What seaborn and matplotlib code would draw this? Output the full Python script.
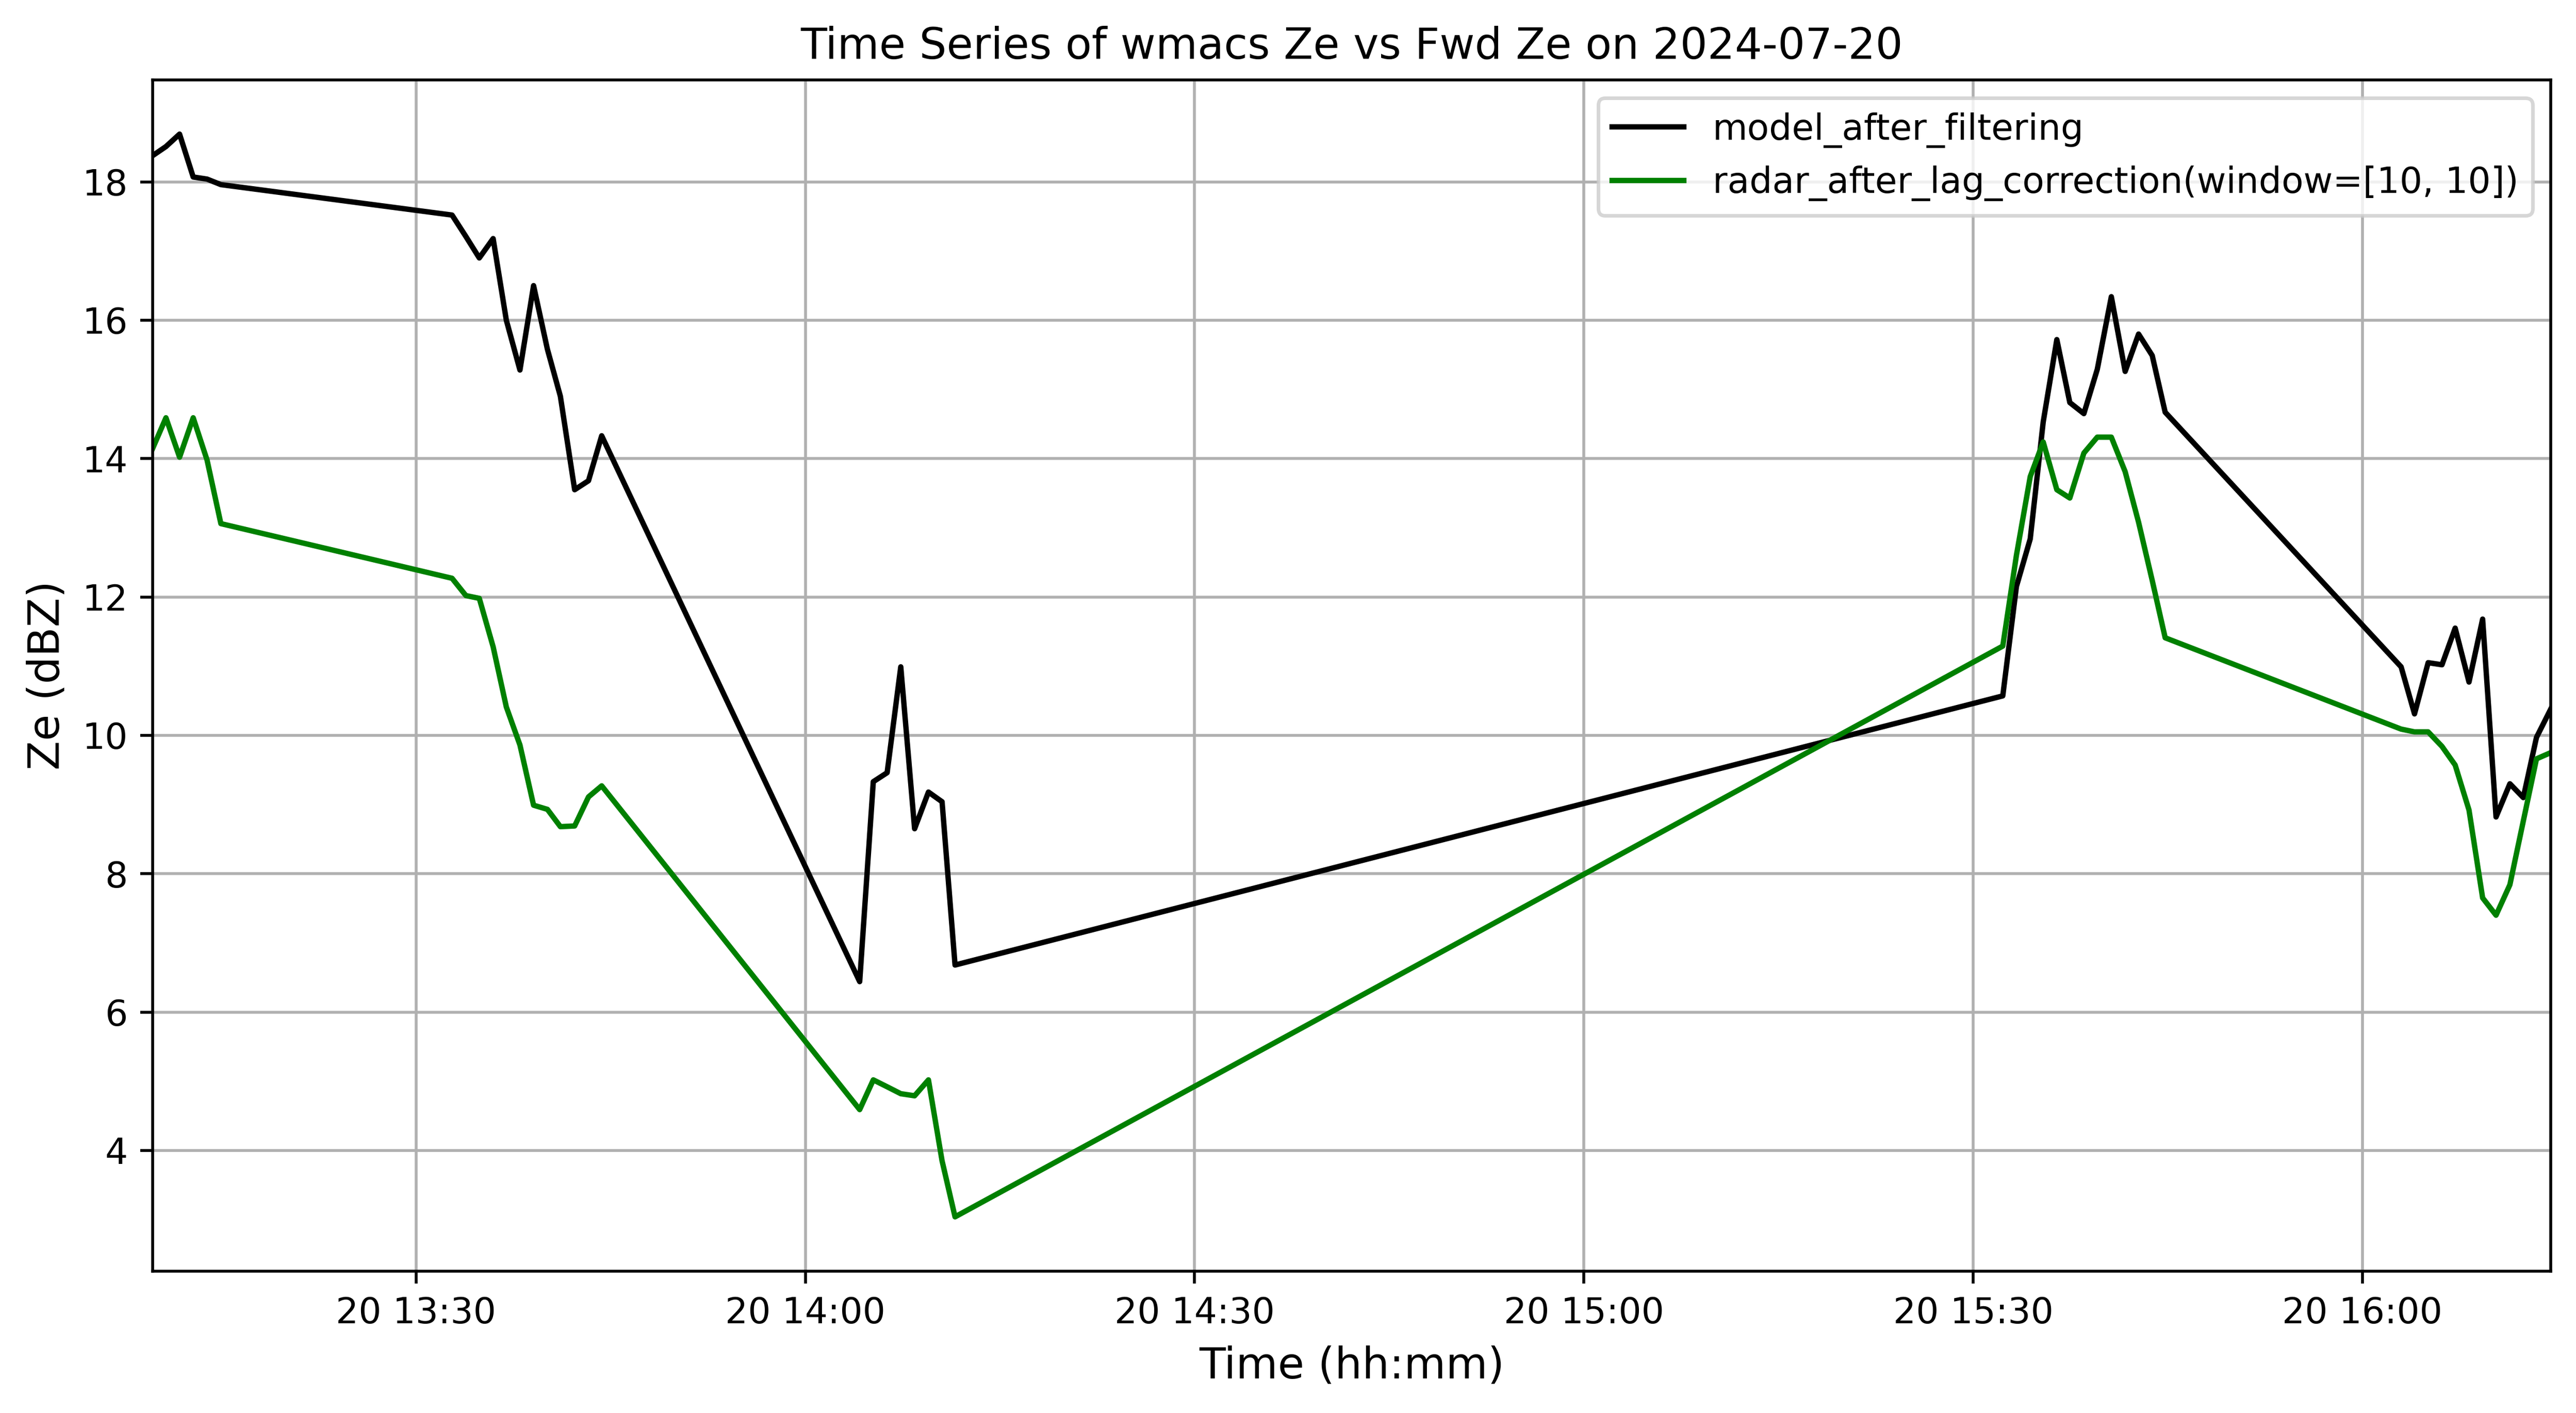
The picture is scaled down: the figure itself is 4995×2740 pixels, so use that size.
import numpy as np
import pandas as pd
import matplotlib
matplotlib.use("Agg")
import matplotlib.pyplot as plt
import matplotlib.dates as mdates
import seaborn as sns

date = "2024-07-20"

times = [
    "13:09:42", "13:10:43", "13:11:46", "13:12:49", "13:13:53", "13:14:57",
    "13:32:46", "13:33:50", "13:34:52", "13:35:56", "13:36:57", "13:38:00",
    "13:39:03", "13:40:07", "13:41:07", "13:42:13", "13:43:17", "13:44:18",
    "14:04:11", "14:05:14", "14:06:18", "14:07:21", "14:08:25", "14:09:29",
    "14:10:32", "14:11:32",
    "15:32:17", "15:33:20", "15:34:24", "15:35:24", "15:36:27", "15:37:27",
    "15:38:32", "15:39:34", "15:40:39", "15:41:43", "15:42:45", "15:43:48",
    "15:44:48",
    "16:02:59", "16:04:01", "16:05:04", "16:06:08", "16:07:09", "16:08:13",
    "16:09:16", "16:10:18", "16:11:22", "16:12:24", "16:13:25", "16:14:31",
]

model_ze = [
    18.38, 18.51, 18.69, 18.07, 18.04, 17.96,
    17.52, 17.21, 16.90, 17.18, 16.00, 15.28,
    16.50, 15.58, 14.90, 13.55, 13.68, 14.33,
    6.44, 9.33, 9.46, 10.99, 8.65, 9.18,
    9.04, 6.68,
    10.57, 12.15, 12.84, 14.53, 15.72, 14.81,
    14.65, 15.29, 16.34, 15.26, 15.80, 15.49,
    14.67,
    10.99, 10.31, 11.05, 11.02, 11.55, 10.77,
    11.68, 8.82, 9.30, 9.10, 9.97, 10.38,
]

radar_ze = [
    14.15, 14.59, 14.02, 14.59, 13.98, 13.06,
    12.27, 12.02, 11.98, 11.28, 10.41, 9.86,
    8.99, 8.93, 8.68, 8.69, 9.11, 9.27,
    4.59, 5.02, 4.92, 4.82, 4.79, 5.02,
    3.85, 3.04,
    11.29, 12.60, 13.74, 14.24, 13.55, 13.43,
    14.08, 14.31, 14.31, 13.81, 13.08, 12.24,
    11.41,
    10.09, 10.05, 10.05, 9.84, 9.57, 8.92,
    7.65, 7.40, 7.84, 8.76, 9.66, 9.75,
]

df = pd.DataFrame({
    "time": pd.to_datetime([f"{date} {t}" for t in times]),
    "model": model_ze,
    "radar": radar_ze,
})

fig, ax = plt.subplots(figsize=(9.99, 5.48))

sns.lineplot(data=df, x="time", y="model", color="black", linewidth=1.5,
             label="model_after_filtering", ax=ax)
sns.lineplot(data=df, x="time", y="radar", color="green", linewidth=1.5,
             label="radar_after_lag_correction(window=[10, 10])", ax=ax)

ax.set_xlim(df["time"].iloc[0], df["time"].iloc[-1])
ax.xaxis.set_major_locator(mdates.MinuteLocator(byminute=[0, 30]))
ax.xaxis.set_major_formatter(mdates.DateFormatter("%d %H:%M"))

ax.set_title(f"Time Series of wmacs Ze vs Fwd Ze on {date}", fontsize=12)
ax.set_xlabel("Time (hh:mm)", fontsize=12)
ax.set_ylabel("Ze (dBZ)", fontsize=12)
ax.grid(True)
ax.legend(loc="upper right")

fig.subplots_adjust(left=0.0593, right=0.9902, top=0.9434, bottom=0.1005)
plt.savefig("out.png", dpi=500)
plt.close()
